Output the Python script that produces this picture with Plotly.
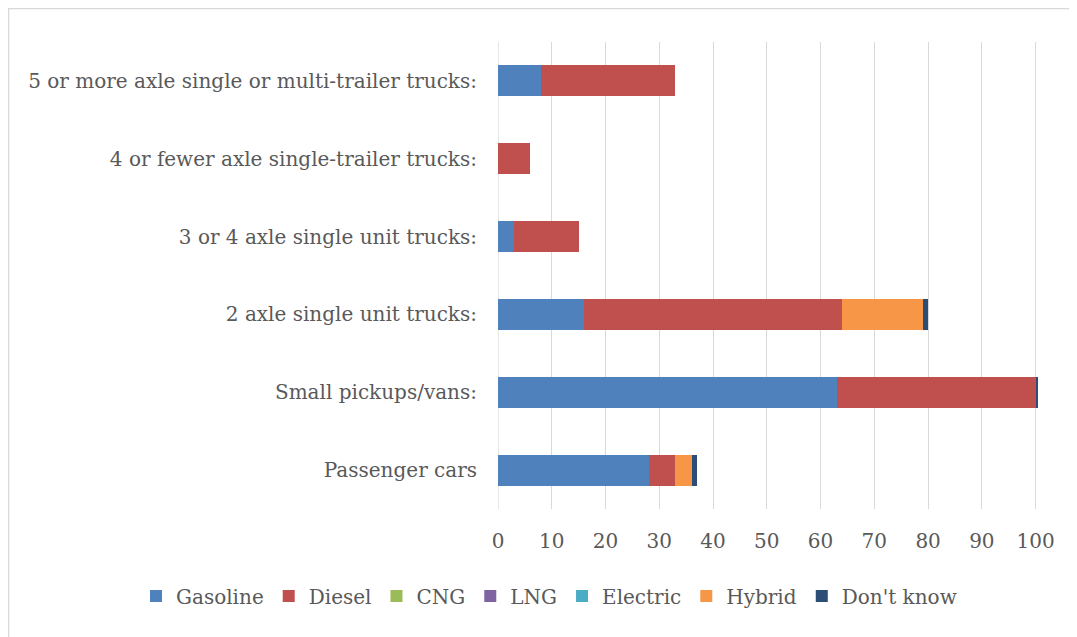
import plotly.graph_objects as go

categories = [
    "Passenger cars",
    "Small pickups/vans:",
    "2 axle single unit trucks:",
    "3 or 4 axle single unit trucks:",
    "4 or fewer axle single-trailer trucks:",
    "5 or more axle single or multi-trailer trucks:",
]
gasoline = [28, 63, 16, 3, 0, 8]
diesel = [5, 37, 48, 12, 6, 25]
cng = [0, 0, 0, 0, 0, 0]
lng = [0, 0, 0, 0, 0, 0]
electric = [0, 0, 0, 0, 0, 0]
hybrid = [3, 0, 15, 0, 0, 0]
dont_know = [1, 0.5, 1, 0, 0, 0]
x_ticks = [0, 10, 20, 30, 40, 50, 60, 70, 80, 90, 100]

series = [
    ("Gasoline", gasoline, "#4F81BD"),
    ("Diesel", diesel, "#C0504D"),
    ("CNG", cng, "#9BBB59"),
    ("LNG", lng, "#8064A2"),
    ("Electric", electric, "#4BACC6"),
    ("Hybrid", hybrid, "#F79646"),
    ("Don't know", dont_know, "#2C4D75"),
]

# page body has an 8px margin, so figure is 8px smaller and shifted
OFF = 8
W, H = 1077 - OFF, 637 - OFF
L, R, T, B = 498 - OFF, 1041 - OFF, 42 - OFF, 509 - OFF
PW, PH = R - L, B - T

fig = go.Figure()
for name, vals, col in series:
    fig.add_trace(go.Bar(
        y=categories, x=vals, name=name, orientation="h",
        marker=dict(color=col, line=dict(width=0)),
    ))

FONT = "DejaVu Serif"
TXT = "#595959"
FS = 20
fig.update_layout(
    width=W, height=H,
    barmode="stack", bargap=0.6,
    plot_bgcolor="white", paper_bgcolor="white",
    margin=dict(l=L, r=W - R, t=T, b=H - B, pad=0),
    font=dict(family=FONT, size=FS, color=TXT),
    xaxis=dict(
        range=[0, 101], tickvals=x_ticks, showgrid=True,
        gridcolor="#d9d9d9", gridwidth=1.3, zeroline=False,
        showline=False, ticks="", ticklabelstandoff=18,
        tickfont=dict(family=FONT, size=FS, color=TXT),
    ),
    yaxis=dict(
        categoryorder="array", categoryarray=categories,
        showgrid=False, zeroline=False, showline=False, ticks="",
        ticklabelstandoff=20,
        tickfont=dict(family=FONT, size=FS, color=TXT),
    ),
    legend=dict(
        orientation="h", x=(136 - OFF - L) / PW, xanchor="left",
        y=(B - (596 - OFF)) / PH, yanchor="middle",
        font=dict(family=FONT, size=FS, color=TXT),
        itemwidth=30, traceorder="normal",
    ),
    shapes=[
        dict(type="line", xref="x", yref="paper", x0=0, x1=0, y0=0, y1=1,
             line=dict(color="#d9d9d9", width=1.3), layer="below"),
        dict(type="rect", xref="paper", yref="paper",
             x0=(0.7 - L) / PW, x1=(W + 20 - L) / PW,
             y0=(B - (H + 20)) / PH, y1=(B - 0.7) / PH,
             line=dict(color="#d9d9d9", width=1.3), layer="below"),
    ],
)

fig.write_html("out.html")
